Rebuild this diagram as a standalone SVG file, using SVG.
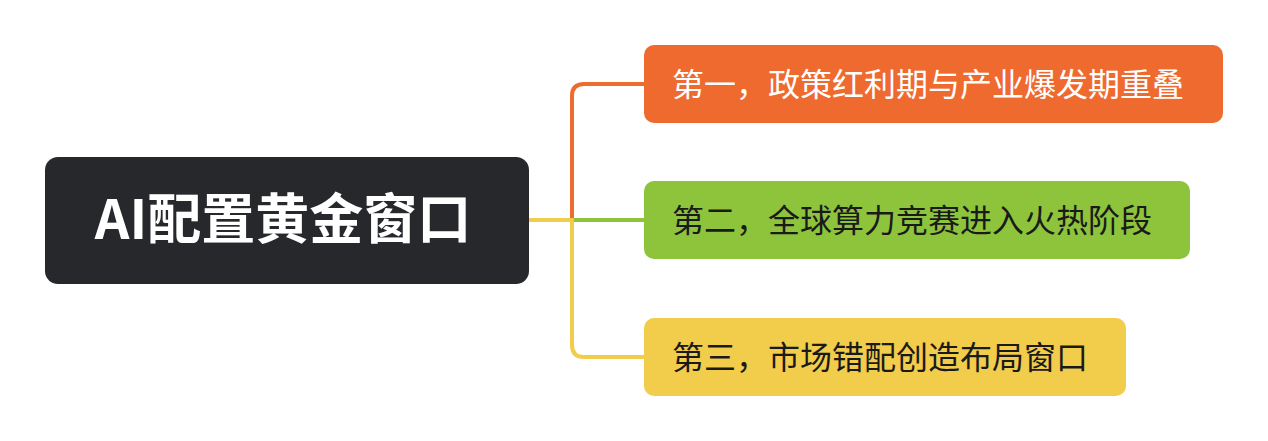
<svg xmlns="http://www.w3.org/2000/svg" width="1268" height="441" viewBox="0 0 1268 441">
<style>
.c{fill:none;stroke-width:4;stroke-linecap:round}
.t{font-family:"Noto Sans CJK SC","Noto Sans",sans-serif;font-size:32px}
</style>
<rect width="1268" height="441" fill="#fff"/>
<g id="connectors">
<path class="c" stroke="#ef6a2e" d="M572,220 V96 Q572,84 584,84 H646"/>
<path class="c" stroke="#8dc43c" d="M572,220 H646"/>
<path class="c" stroke="#f2cc4b" d="M572,220 V345 Q572,357 584,357 H646"/>
<path class="c" stroke="#f2cc4b" d="M529,220 H572"/>
</g>
<g id="root">
<rect x="45" y="157" width="484" height="127" rx="13" fill="#27282c"/>
<text x="283" y="239" text-anchor="middle" fill="#fff" font-family="'Noto Sans CJK SC','Noto Sans',sans-serif" font-size="54" font-weight="bold">AI配置黄金窗口</text>
</g>
<g id="n1">
<rect x="644" y="45" width="579" height="78" rx="10" fill="#ef6a2e"/>
<text class="t" x="672" y="96" fill="#fff">第一，政策红利期与产业爆发期重叠</text>
</g>
<g id="n2">
<rect x="644" y="181" width="546" height="78" rx="10" fill="#8dc43c"/>
<text class="t" x="672" y="232" fill="#1a1a1a">第二，全球算力竞赛进入火热阶段</text>
</g>
<g id="n3">
<rect x="644" y="318" width="482" height="78" rx="10" fill="#f2cc4b"/>
<text class="t" x="672" y="369" fill="#1a1a1a">第三，市场错配创造布局窗口</text>
</g>
</svg>
